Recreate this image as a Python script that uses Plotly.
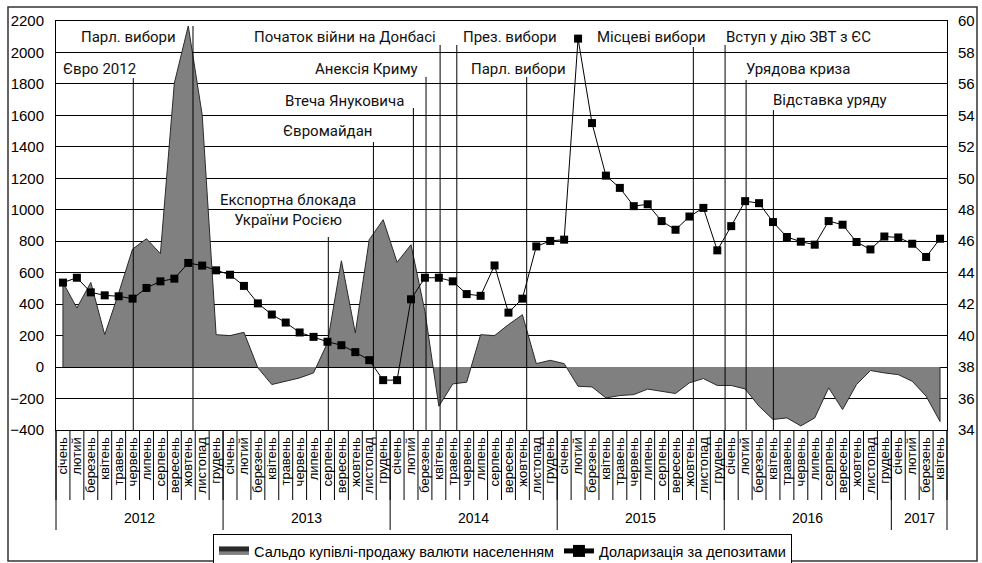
import plotly.graph_objects as go

months = ["січень", "лютий", "березень", "квітень", "травень", "червень",
          "липень", "серпень", "вересень", "жовтень", "листопад", "грудень"]
years = ["2012", "2013", "2014", "2015", "2016", "2017"]
months_per_year = [12, 12, 12, 12, 12, 4]

month_labels = []
for n in months_per_year:
    month_labels += months[:n]

# Сальдо купівлі-продажу валюти населенням (ліва вісь)
saldo = [538, 376, 538, 206, 470, 750, 816, 721, 1805, 2168, 1603, 206,
         200, 221, -5, -111, -90, -69, -37, 154, 676, 217, 810, 937,
         666, 778, 354, -249, -107, -96, 206, 200, 270, 333, 22, 43,
         22, -122, -126, -196, -181, -175, -140, -154, -168, -100, -73, -117,
         -117, -139, -249, -333, -323, -374, -323, -132, -270, -111, -22, -37,
         -48, -90, -185, -346]

# Доларизація за депозитами (права вісь)
dollar = [43.37, 43.68, 42.75, 42.56, 42.5, 42.35, 43.03, 43.45, 43.62, 44.62, 44.45, 44.15,
          43.87, 43.16, 42.05, 41.34, 40.83, 40.2, 39.92, 39.61, 39.39, 38.95, 38.44, 37.17,
          37.17, 42.31, 43.68, 43.68, 43.45, 42.64, 42.53, 44.46, 41.46, 42.35, 45.67, 46.02,
          46.1, 58.88, 53.51, 50.17, 49.39, 48.23, 48.35, 47.28, 46.73, 47.57, 48.12, 45.42,
          46.96, 48.55, 48.42, 47.22, 46.27, 45.97, 45.78, 47.28, 47.05, 45.95, 45.48, 46.3,
          46.24, 45.84, 45.0, 46.16]

# Події
events_text = ["Парл. вибори", "Євро 2012", "Початок війни на Донбасі", "Анексія Криму",
               "Втеча Януковича", "Євромайдан", "Експортна блокада<br>України Росією",
               "През. вибори", "Парл. вибори", "Місцеві вибори", "Вступ у дію ЗВТ з ЄС",
               "Урядова криза", "Відставка уряду"]
events_month = [9.34, 5.05, 27.09, 26.08, 25.17, 22.3, 19.06, 28.29, 33.31, 45.28, 47.56, 49.07, 51.03]

N = len(month_labels)
idx = list(range(N))

# geometry
W, H = 982, 563
L, R, T, B = 56, 35, 21, 133
PW, PH = W - L - R, H - T - B
CW = PW / N

def px_to_x(px):
    return (px - L) / CW - 0.5

def py_to_paper(py):
    return (T + PH - py) / PH

event_line_top = [26, 78, 45, 77, 108, 142, 237, 45, 77, 47, 45, 80, 110]
event_text_cx = [128.5, 99.5, 344.5, 366, 344.5, 327.5, 288, 510, 518, 651, 798, 798, 830]
event_text_cy = [37, 69, 37, 69, 101, 131, 210, 37, 69, 37, 37, 69, 100]

fig = go.Figure()

fig.add_trace(go.Scatter(
    x=[0] + idx + [N - 1], y=[0] + saldo + [0],
    mode="lines", fill="toself", fillcolor="#808080",
    line=dict(color="#2a2a2a", width=1),
    name="Сальдо купівлі-продажу валюти населенням", yaxis="y"))

fig.add_trace(go.Scatter(
    x=idx, y=dollar, mode="lines+markers",
    line=dict(color="#000000", width=1),
    marker=dict(symbol="square", size=8, color="#000000"),
    name="Доларизація за депозитами", yaxis="y2"))

shapes = []
annotations = []

for txt, xm, top, cx, cy in zip(events_text, events_month, event_line_top, event_text_cx, event_text_cy):
    shapes.append(dict(type="line", xref="x", yref="paper", x0=xm, x1=xm,
                       y0=0, y1=py_to_paper(top), line=dict(color="#000", width=1), layer="above"))
    annotations.append(dict(text=txt, xref="x", yref="paper", x=px_to_x(cx), y=py_to_paper(cy),
                            xanchor="center", yanchor="middle", showarrow=False,
                            font=dict(family="Roboto, Open Sans, sans-serif", size=15, color="#111"),
                            align="center"))

# month separators
for k in range(N + 1):
    shapes.append(dict(type="line", xref="paper", yref="paper", x0=k / N, x1=k / N,
                       y0=0, y1=py_to_paper(500), line=dict(color="#000", width=1)))
# year separators and labels
start = 0
bounds = [0]
for n in months_per_year:
    start += n
    bounds.append(start)
for b in bounds:
    shapes.append(dict(type="line", xref="paper", yref="paper", x0=b / N, x1=b / N,
                       y0=0, y1=py_to_paper(530), line=dict(color="#000", width=1)))
for yname, a, b in zip(years, bounds[:-1], bounds[1:]):
    annotations.append(dict(text=yname, xref="x", yref="paper", x=(a + b - 1) / 2,
                            y=py_to_paper(518), xanchor="center", yanchor="middle", showarrow=False,
                            font=dict(family="Liberation Sans, Arial, sans-serif", size=14, color="#000")))

# outer frame
shapes.append(dict(type="rect", xref="paper", yref="paper",
                   x0=(8 - L) / PW, x1=(977 - L) / PW, y0=py_to_paper(561), y1=py_to_paper(7),
                   line=dict(color="#333", width=1.5), fillcolor="rgba(0,0,0,0)", layer="below"))

fig.update_layout(
    width=W, height=H,
    margin=dict(l=L, r=R, t=T, b=B, autoexpand=False),
    paper_bgcolor="white", plot_bgcolor="white",
    font=dict(family="Liberation Sans, Arial, sans-serif", color="#000"),
    xaxis=dict(range=[-0.5, N - 0.5], tickmode="array", tickvals=idx, ticktext=month_labels,
               tickangle=-90, tickfont=dict(size=13, family="Liberation Sans, Arial, sans-serif"),
               showgrid=False, zeroline=False, showline=True, linecolor="#000", mirror=True,
               ticks="", ticklabelstandoff=1, automargin=False),
    yaxis=dict(range=[-400, 2200], dtick=200, tick0=0, showgrid=True, gridcolor="#000", gridwidth=1,
               zeroline=False, showline=True, linecolor="#000", mirror=True, ticks="",
               tickfont=dict(size=15, family="Liberation Sans Narrow, Arial Narrow, Liberation Sans, Arial"),
               ticklabelstandoff=8, automargin=False),
    yaxis2=dict(range=[34, 60], dtick=2, tick0=34, overlaying="y", side="right", showgrid=False,
                zeroline=False, showline=False, ticks="",
                tickfont=dict(size=15, family="Liberation Sans Narrow, Arial Narrow, Liberation Sans, Arial"),
                ticklabelstandoff=10, automargin=False),
    legend=dict(orientation="h", xref="container", yref="container",
                x=502.5 / W, xanchor="center", y=(H - 534) / H, yanchor="top",
                bordercolor="#000", borderwidth=1, bgcolor="white",
                font=dict(size=14.5, family="Liberation Sans, Arial, sans-serif"),
                itemsizing="constant"),
    shapes=shapes, annotations=annotations,
    showlegend=True,
)

fig.write_html("out.html", config={"displayModeBar": False},
               post_script="document.body.style.margin='0px';document.body.style.overflow='hidden';")
